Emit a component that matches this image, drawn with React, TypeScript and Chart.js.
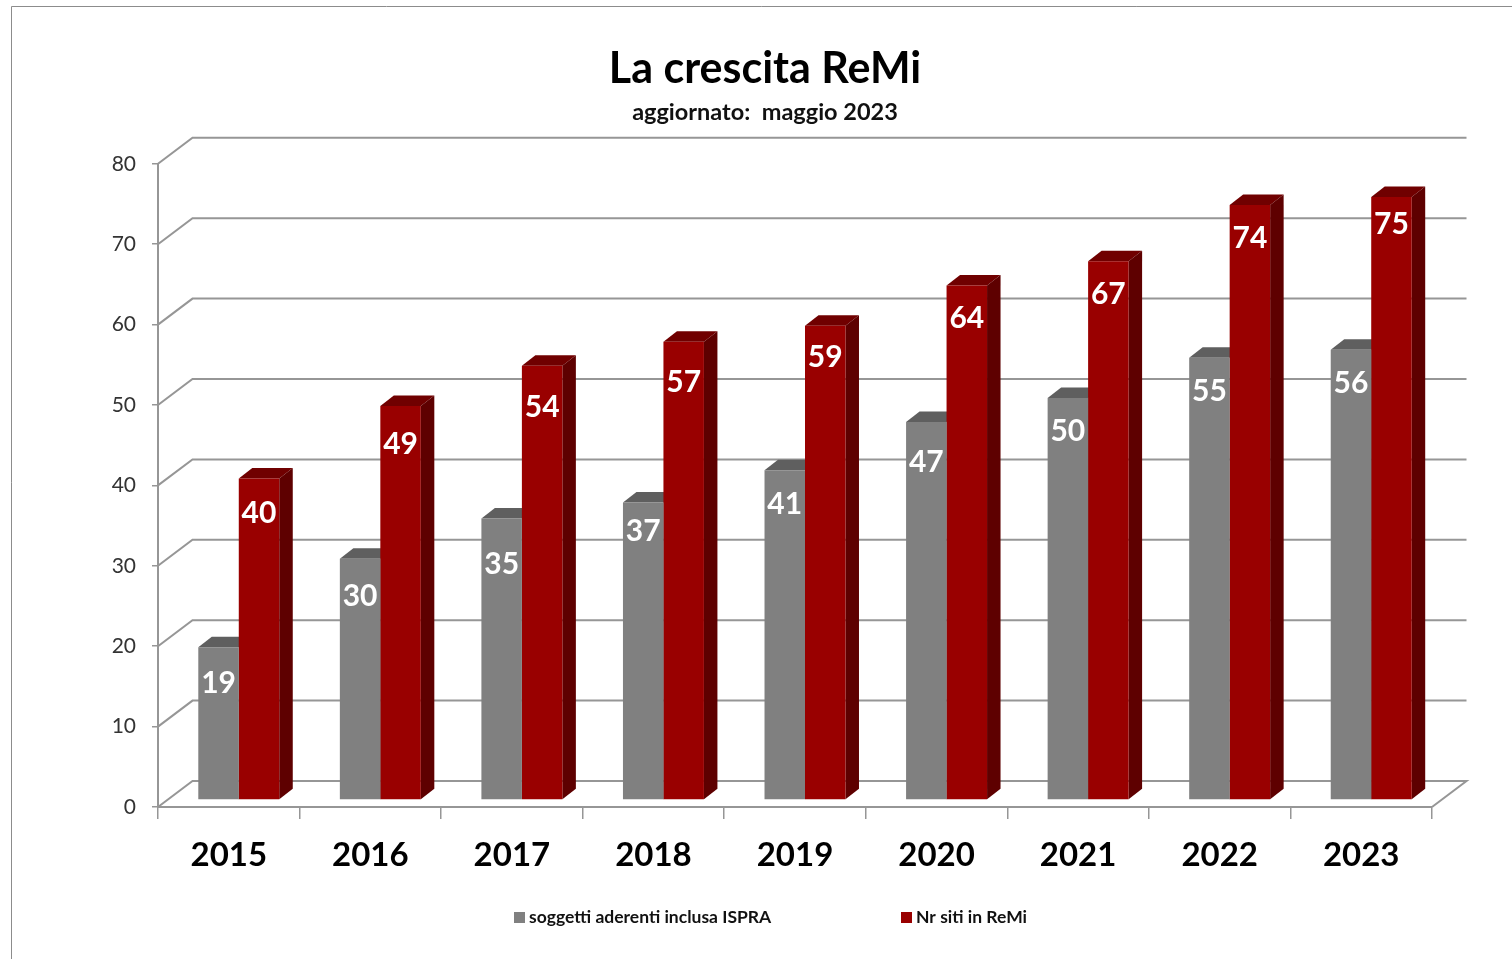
import React, { useEffect, useRef } from "react";
import { Chart, registerables } from "chart.js";

Chart.register(...registerables);

const years = ["2015", "2016", "2017", "2018", "2019", "2020", "2021", "2022", "2023"];
const soggetti = [19, 30, 35, 37, 41, 47, 50, 55, 56];
const siti = [40, 49, 54, 57, 59, 64, 67, 74, 75];
const yTicks = [0, 10, 20, 30, 40, 50, 60, 70, 80];
const seriesNames = ["soggetti aderenti inclusa ISPRA", "Nr siti in ReMi"];
const titleText = "La crescita ReMi";
const subtitleText = "aggiornato:  maggio 2023";

const GRID = "#969696";
const FONT = "Lato, Carlito, sans-serif";
const faces = [
  { front: "#808080", top: "#5f5f5f", side: "#5f5f5f" },
  { front: "#990000", top: "#700000", side: "#5e0000" },
];
// depth of the 3D box
const WALL = { x: 34.5, y: -26 };
const BAR_PLANE = { x: 10, y: -7 };
const BAR_DEPTH = { x: 13.5, y: -10.5 };
// how far below each bar's top the value label sits
const labelDrop = [
  [35, 37, 45, 28, 33, 39, 32, 33, 33],
  [34, 37, 40, 40, 31, 32, 32, 32, 26],
];

const box3d = {
  id: "box3d",
  beforeDraw(chart: any) {
    const { ctx, width, height } = chart;
    ctx.save();
    ctx.fillStyle = "#ffffff";
    ctx.fillRect(0, 0, width, height);
    ctx.strokeStyle = "#8c8c8c";
    ctx.lineWidth = 1;
    ctx.beginPath();
    ctx.moveTo(11.5, height);
    ctx.lineTo(11.5, 6.5);
    ctx.lineTo(width, 6.5);
    ctx.stroke();
    ctx.restore();
  },
  beforeDatasetsDraw(chart: any) {
    const { ctx, chartArea, scales } = chart;
    ctx.save();
    ctx.strokeStyle = GRID;
    ctx.lineWidth = 2;
    for (const v of yTicks) {
      const y = scales.y.getPixelForValue(v);
      ctx.beginPath();
      ctx.moveTo(chartArea.left, y);
      ctx.lineTo(chartArea.left + WALL.x, y + WALL.y);
      ctx.lineTo(chartArea.right + WALL.x, y + WALL.y);
      if (v === 0) ctx.lineTo(chartArea.right, y);
      ctx.stroke();
    }
    ctx.restore();

    ctx.save();
    ctx.translate(BAR_PLANE.x, BAR_PLANE.y);
    chart.data.datasets.forEach((_: any, di: number) => {
      const meta = chart.getDatasetMeta(di);
      meta.data.forEach((bar: any) => {
        const l = bar.x - bar.width / 2;
        const r = bar.x + bar.width / 2;
        const t = bar.y;
        const b = bar.base;
        ctx.fillStyle = faces[di].top;
        ctx.beginPath();
        ctx.moveTo(l, t);
        ctx.lineTo(l + BAR_DEPTH.x, t + BAR_DEPTH.y);
        ctx.lineTo(r + BAR_DEPTH.x, t + BAR_DEPTH.y);
        ctx.lineTo(r, t);
        ctx.closePath();
        ctx.fill();
        ctx.fillStyle = faces[di].side;
        ctx.beginPath();
        ctx.moveTo(r, t);
        ctx.lineTo(r + BAR_DEPTH.x, t + BAR_DEPTH.y);
        ctx.lineTo(r + BAR_DEPTH.x, b + BAR_DEPTH.y);
        ctx.lineTo(r, b);
        ctx.closePath();
        ctx.fill();
      });
    });
    // leaves the translation on for the bars' own fronts; restored in afterDatasetsDraw
  },
  afterDatasetsDraw(chart: any) {
    const { ctx } = chart;
    ctx.restore();
    ctx.save();
    ctx.fillStyle = "#ffffff";
    ctx.font = `bold 30px ${FONT}`;
    ctx.textAlign = "center";
    ctx.textBaseline = "middle";
    chart.data.datasets.forEach((ds: any, di: number) => {
      chart.getDatasetMeta(di).data.forEach((bar: any, i: number) => {
        ctx.fillText(String(ds.data[i]), bar.x + BAR_PLANE.x, bar.y + BAR_PLANE.y + labelDrop[di][i] + 1);
      });
    });
    // legend
    const marks = [514, 901];
    ctx.textAlign = "left";
    ctx.font = `bold 17.5px ${FONT}`;
    chart.data.datasets.forEach((ds: any, di: number) => {
      ctx.fillStyle = ds.backgroundColor;
      ctx.fillRect(marks[di], 912, 11, 11);
      ctx.fillStyle = "#111111";
      ctx.fillText(ds.label, marks[di] + 15, 917);
    });
    ctx.restore();
  },
};

export default function App() {
  const ref = useRef<HTMLCanvasElement | null>(null);
  useEffect(() => {
    document.body.style.margin = "0";
    const chart = new Chart(ref.current as HTMLCanvasElement, {
      type: "bar",
      data: {
        labels: years,
        datasets: [
          { label: seriesNames[0], data: soggetti, backgroundColor: faces[0].front, categoryPercentage: 0.572, barPercentage: 1 },
          { label: seriesNames[1], data: siti, backgroundColor: faces[1].front, categoryPercentage: 0.572, barPercentage: 1 },
        ],
      },
      options: {
        responsive: false,
        animation: false,
        devicePixelRatio: 1,
        layout: { padding: { left: 98, right: 80, top: 43, bottom: 72 } },
        plugins: {
          legend: { display: false },
          tooltip: { enabled: false },
          title: {
            display: true,
            text: titleText,
            color: "#000000",
            font: { family: FONT, size: 43, weight: "bold", lineHeight: 1.2 },
            padding: { top: 0, bottom: 0 },
          },
          subtitle: {
            display: true,
            text: subtitleText,
            color: "#111111",
            font: { family: FONT, size: 23.5, weight: "bold", lineHeight: 1.2 },
            padding: { top: 4, bottom: 37 },
          },
        },
        scales: {
          x: {
            afterFit(s: any) { s.height = 80; },
            grid: { offset: true, drawOnChartArea: false, color: GRID, tickLength: 12, lineWidth: 1.5 },
            border: { display: true, color: GRID, width: 2 },
            ticks: { color: "#000000", padding: 17, maxRotation: 0, font: { family: FONT, size: 33, weight: "bold" } },
          },
          y: {
            min: 0,
            max: 80,
            afterFit(s: any) { s.width = 60; },
            grid: { drawOnChartArea: false, color: GRID, tickLength: 6, lineWidth: 1.5 },
            border: { display: true, color: GRID, width: 2 },
            ticks: { stepSize: 10, color: "#333333", padding: 16, font: { family: FONT, size: 21 } },
          },
        },
      },
      plugins: [box3d],
    } as any);
    return () => chart.destroy();
  }, []);
  return (
    <div style={{ position: "absolute", left: 0, top: 0 }}>
      <canvas ref={ref} width={1512} height={959} style={{ display: "block" }} />
    </div>
  );
}
